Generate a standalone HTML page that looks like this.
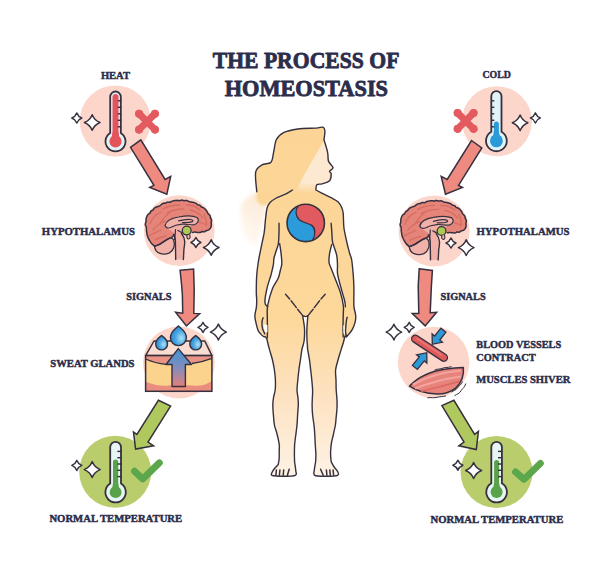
<!DOCTYPE html>
<html><head><meta charset="utf-8"><title>The Process of Homeostasis</title>
<style>html,body{margin:0;padding:0;background:#fff;}svg{display:block;}text{font-family:"Liberation Serif",serif;}</style>
</head><body>
<svg width="612" height="566" viewBox="0 0 612 566"><rect width="612" height="566" fill="#fff"/>
<defs>
 <linearGradient id="bodyg" gradientUnits="userSpaceOnUse" x1="0" y1="125" x2="0" y2="478">
  <stop offset="0" stop-color="#fcd596"/><stop offset="0.55" stop-color="#fdd89b"/><stop offset="0.78" stop-color="#fde3c3"/><stop offset="1" stop-color="#fef3e6"/>
 </linearGradient>
 <linearGradient id="faceg" gradientUnits="userSpaceOnUse" x1="0" y1="140" x2="0" y2="193">
  <stop offset="0" stop-color="#fde8cf"/><stop offset="0.8" stop-color="#fde9d2"/><stop offset="1" stop-color="#fde9d2" stop-opacity="0"/>
 </linearGradient>
 <linearGradient id="hairfade" gradientUnits="userSpaceOnUse" x1="266" y1="195" x2="242" y2="235">
  <stop offset="0" stop-color="#fde8cc"/><stop offset="0.3" stop-color="#fdeedc"/><stop offset="1" stop-color="#fff8f1"/>
 </linearGradient>
</defs>
<filter id="blur3" x="-50%" y="-50%" width="200%" height="200%"><feGaussianBlur stdDeviation="2.2"/></filter><filter id="blur1" x="-50%" y="-50%" width="200%" height="200%"><feGaussianBlur stdDeviation="0.9"/></filter><path filter="url(#blur3)" d="M257,192 C250,196 244,199 241.5,204 C240,212 241,222 244,232 C247,240 252,245 256,246 L261,232 L264.5,214 L266,204 Z" fill="url(#hairfade)"/><path filter="url(#blur1)" d="M257,184 L256.6,192 L256.4,199 C257.5,203 261,205.5 265.5,205.5 L268,204 L275.5,198.5 L285.4,194.2 L293,189 L285,184 Z" fill="#fcd596"/>
<path d="M256.8,191.8 C256.6,188.5 254.8,176.5 255.7,172.0 C256.6,167.5 259.4,166.5 262.0,164.9 C264.6,163.3 269.1,164.3 271.0,162.2 C272.9,160.1 272.7,156.1 273.6,152.4 C274.5,148.7 274.7,143.1 276.3,139.8 C277.9,136.5 279.9,134.4 283.5,132.6 C287.1,130.8 292.5,129.8 297.9,129.0 C303.3,128.2 311.7,128.4 315.9,128.1 C320.1,127.8 321.5,126.8 323.0,127.2 C324.5,127.7 324.7,128.7 324.9,130.8 C325.1,132.9 324.1,138.3 324.0,139.8 C324.6,141.9 326.9,148.8 327.6,152.4 C328.4,156.0 327.6,158.8 328.5,161.3 C329.4,163.8 332.8,165.9 333.0,167.6 C333.2,169.2 329.9,170.1 329.6,171.2 C329.3,172.3 331.2,172.3 331.2,174.0 C331.2,175.7 330.9,179.5 329.4,181.1 C327.9,182.7 324.3,183.2 322.2,183.8 C320.1,184.4 317.9,183.7 316.8,184.7 C315.8,185.7 316.0,189.1 315.9,190.0 C316.8,190.5 318.7,191.5 321.2,192.8 C323.7,194.1 328.3,196.2 331.1,197.7 C333.9,199.2 336.4,200.3 338.2,202.0 C340.0,203.7 340.9,205.7 341.7,207.6 C342.5,209.5 342.8,210.0 343.2,213.3 C343.6,216.6 343.3,222.8 343.9,227.5 C344.5,232.2 345.8,237.4 346.7,241.6 C347.6,245.8 348.7,249.8 349.5,252.9 C350.3,256.0 351.1,256.4 351.7,260.0 C352.3,263.6 352.8,269.5 353.2,274.2 C353.6,278.9 353.8,284.0 353.9,288.3 C354.0,292.6 353.8,296.9 353.8,300.0 C353.8,303.1 353.7,304.5 354.0,307.1 C354.3,309.7 355.5,312.9 355.7,315.5 C355.9,318.1 355.6,320.2 355.0,322.6 C354.4,325.0 353.2,327.8 352.2,329.7 C351.2,331.6 349.9,332.7 349.0,333.9 C348.1,335.1 346.9,336.2 346.5,336.7 L345,336 C344.8,337.0 344.1,339.7 343.5,342.0 C342.9,344.3 342.0,346.6 341.1,349.6 C340.2,352.6 338.9,356.6 338.0,360.0 C337.1,363.4 335.9,366.7 335.6,370.0 C335.3,373.3 335.9,376.7 336.0,380.0 C336.1,383.3 336.0,386.7 336.2,390.0 C336.4,393.3 336.9,397.0 337.0,400.0 C337.1,403.0 337.1,405.2 337.0,408.0 C336.9,410.8 336.5,414.2 336.2,417.0 C335.9,419.8 335.8,422.2 335.4,425.0 C334.9,427.8 334.1,431.2 333.5,434.0 C332.9,436.8 332.1,439.3 331.6,442.0 C331.1,444.7 330.9,447.5 330.7,450.0 C330.5,452.5 330.6,455.0 330.7,457.0 C330.8,459.0 331.2,461.2 331.3,462.0 C331.8,462.9 333.4,465.9 334.5,467.5 C335.6,469.1 337.1,470.2 337.6,471.5 C338.1,472.8 339.5,474.5 337.6,475.3 C335.7,476.1 330.0,476.2 326.2,476.2 C322.4,476.2 316.8,476.4 314.8,475.3 C312.8,474.2 314.3,471.6 314.4,469.4 C314.5,467.2 315.4,463.2 315.6,462.0 C315.7,460.8 315.9,457.5 315.9,454.7 C315.8,451.9 315.5,448.3 315.3,445.0 C315.1,441.7 315.0,438.3 314.8,435.0 C314.6,431.7 314.4,428.3 314.0,425.0 C313.6,421.7 312.9,418.3 312.6,415.0 C312.3,411.7 312.1,408.0 312.1,405.0 C312.1,402.0 312.3,399.5 312.4,397.0 C312.5,394.5 312.7,392.8 312.6,390.0 C312.5,387.2 312.1,383.3 311.8,380.0 C311.5,376.7 311.1,373.3 310.7,370.0 C310.3,366.7 310.0,363.4 309.5,360.0 C309.0,356.6 308.1,352.1 307.7,349.6 C307.3,347.1 307.5,346.6 307.4,345.0 C307.3,343.4 307.1,342.0 307.0,340.0 C306.9,338.0 306.8,335.2 306.8,333.0 C306.8,330.8 306.9,329.2 307.0,327.0 C307.1,324.8 307.4,321.8 307.5,320.0 C307.6,318.2 307.8,316.7 307.8,316.0 C307.4,316.1 306.1,316.6 305.3,316.6 C304.5,316.6 303.2,315.4 302.9,316.0 C302.6,316.6 303.1,318.2 303.4,320.0 C303.6,321.8 304.2,324.8 304.4,327.0 C304.6,329.2 304.6,330.8 304.6,333.0 C304.6,335.2 304.4,338.0 304.2,340.0 C304.0,342.0 303.6,343.4 303.2,345.0 C302.8,346.6 302.4,347.1 301.9,349.6 C301.4,352.1 300.9,356.6 300.4,360.0 C299.9,363.4 299.3,366.7 298.9,370.0 C298.5,373.3 298.1,376.7 297.8,380.0 C297.5,383.3 297.0,387.0 297.0,390.0 C297.0,393.0 297.8,395.5 298.0,398.0 C298.2,400.5 298.4,402.2 298.3,405.0 C298.2,407.8 297.8,411.7 297.6,415.0 C297.4,418.3 297.3,421.7 297.0,425.0 C296.7,428.3 296.2,431.7 295.8,435.0 C295.4,438.3 294.8,441.7 294.6,445.0 C294.4,448.3 294.4,451.9 294.4,454.7 C294.4,457.5 294.6,460.8 294.6,462.0 C294.8,463.5 295.7,468.7 295.8,470.9 C295.9,473.1 297.4,474.4 295.3,475.3 C293.2,476.2 287.3,476.2 283.5,476.2 C279.7,476.2 274.2,476.1 272.3,475.5 C270.4,474.9 271.6,473.7 272.0,472.5 C272.4,471.3 273.5,469.8 274.5,468.5 C275.5,467.2 277.6,465.2 278.2,464.5 C278.4,463.6 278.9,461.1 279.1,459.0 C279.3,456.9 279.2,454.3 279.2,452.0 C279.2,449.7 279.5,447.3 279.3,445.0 C279.1,442.7 278.5,440.2 278.0,438.0 C277.5,435.8 277.1,434.2 276.5,432.0 C275.9,429.8 274.9,427.8 274.4,425.0 C273.9,422.2 273.7,418.3 273.4,415.0 C273.1,411.7 272.8,408.0 272.8,405.0 C272.8,402.0 273.2,399.5 273.6,397.0 C274.0,394.5 274.9,392.8 275.2,390.0 C275.5,387.2 275.5,383.3 275.4,380.0 C275.3,376.7 274.9,373.3 274.4,370.0 C273.9,366.7 273.3,363.4 272.5,360.0 C271.7,356.6 270.3,352.4 269.5,349.6 C268.7,346.8 268.2,344.8 267.8,343.0 C267.4,341.2 267.0,339.7 266.8,339.0 L265.6,337 C265.0,336.3 264.6,337.1 263.8,336.7 C263.0,336.3 261.6,335.1 260.6,333.9 C259.6,332.7 258.6,331.8 257.8,329.7 C257.0,327.6 256.1,323.6 255.6,321.2 C255.1,318.8 254.8,317.9 254.9,315.5 C255.0,313.1 256.1,309.7 256.4,307.1 C256.7,304.5 256.7,302.5 256.7,300.0 C256.7,297.5 256.3,296.3 256.3,292.0 C256.3,287.7 256.4,279.4 256.8,274.2 C257.2,269.0 257.8,265.4 258.5,260.8 C259.2,256.2 260.4,251.3 261.3,246.6 C262.2,241.9 263.5,237.2 264.2,232.5 C264.9,227.8 265.1,222.3 265.6,218.3 C266.1,214.3 266.3,211.0 267.0,208.4 C267.7,205.8 268.4,204.3 269.8,202.7 C271.2,201.0 272.9,199.9 275.5,198.5 C278.1,197.1 282.6,195.6 285.4,194.2 C288.2,192.8 291.3,190.7 292.5,190.0 C285,193 270,194 256.8,191.8 Z" fill="url(#bodyg)"/><path d="M323.7,141 C327,150 328,158 332.5,166.1 C329.3,170.9 330.1,174.1 328.5,181.2 C324,184 318,183 315.8,184.4 C315.3,186.8 317,189 318.2,190 C318.5,192 310,192.5 296,192 C303,176 312,161 323.7,141 Z" fill="url(#faceg)"/><path d="M279.2,243.5 C279.5,245.2 280.7,250.3 281.1,253.7 C281.5,257.1 281.9,260.9 281.8,263.6 C281.7,266.3 281.0,267.6 280.4,270.0 C279.8,272.4 279.6,274.9 278.3,278.0 C277.0,281.1 274.4,283.8 272.6,288.3 C270.8,292.9 268.9,302.9 267.7,305.3 C266.5,307.8 265.6,305.8 265.5,303.0 C265.4,300.2 266.1,293.1 267.0,288.3 C267.9,283.5 270.1,278.6 271.2,274.2 C272.2,269.8 272.8,265.0 273.3,262.0 C273.9,259.0 274.0,257.9 274.5,256.0 C275.0,254.1 275.9,252.3 276.5,250.5 C277.1,248.7 278.0,245.9 278.3,245.0 Z" fill="#fff"/><path d="M331.8,244.4 C331.4,245.8 330.2,250.0 329.7,252.9 C329.2,255.8 328.8,259.4 329.0,262.0 C329.2,264.6 330.0,265.3 331.2,268.5 C332.4,271.7 334.7,277.2 336.2,281.2 C337.7,285.2 339.2,288.5 340.4,292.5 C341.6,296.5 342.5,303.2 343.3,305.3 C344.1,307.4 345.0,305.7 345.2,305.0 C345.4,304.3 345.4,303.8 344.7,301.0 C344.0,298.2 342.3,292.8 341.1,288.3 C339.9,283.8 338.3,278.6 337.6,274.2 C336.9,269.8 337.2,265.0 337.0,262.0 C336.8,259.0 336.9,258.2 336.5,256.0 C336.1,253.8 335.4,250.9 334.7,248.7 C334.0,246.5 332.9,243.9 332.5,243.0 Z" fill="#fff"/><path d="M302.9,316 C304.5,316.8 306.5,316.8 307.8,316 C307.5,320 306.8,327 306.8,333 C306.9,337 307.2,341 307.5,345 L303.2,345 C303.8,341 304.4,337 304.6,333 C304.5,327 303.5,320 302.9,316 Z" fill="#fff"/><path d="M256.8,191.8 C256.6,188.5 254.8,176.5 255.7,172.0 C256.6,167.5 259.4,166.5 262.0,164.9 C264.6,163.3 269.1,164.3 271.0,162.2 C272.9,160.1 272.7,156.1 273.6,152.4 C274.5,148.7 274.7,143.1 276.3,139.8 C277.9,136.5 279.9,134.4 283.5,132.6 C287.1,130.8 292.5,129.8 297.9,129.0 C303.3,128.2 311.7,128.4 315.9,128.1 C320.1,127.8 321.5,126.8 323.0,127.2 C324.5,127.7 324.7,128.7 324.9,130.8 C325.1,132.9 324.1,138.3 324.0,139.8 C324.6,141.9 326.9,148.8 327.6,152.4 C328.4,156.0 327.6,158.8 328.5,161.3 C329.4,163.8 332.8,165.9 333.0,167.6 C333.2,169.2 329.9,170.1 329.6,171.2 C329.3,172.3 331.2,172.3 331.2,174.0 C331.2,175.7 330.9,179.5 329.4,181.1 C327.9,182.7 324.3,183.2 322.2,183.8 C320.1,184.4 317.9,183.7 316.8,184.7 C315.8,185.7 316.0,189.1 315.9,190.0 C316.8,190.5 318.7,191.5 321.2,192.8 C323.7,194.1 328.3,196.2 331.1,197.7 C333.9,199.2 336.4,200.3 338.2,202.0 C340.0,203.7 340.9,205.7 341.7,207.6 C342.5,209.5 342.8,210.0 343.2,213.3 C343.6,216.6 343.3,222.8 343.9,227.5 C344.5,232.2 345.8,237.4 346.7,241.6 C347.6,245.8 348.7,249.8 349.5,252.9 C350.3,256.0 351.1,256.4 351.7,260.0 C352.3,263.6 352.8,269.5 353.2,274.2 C353.6,278.9 353.8,284.0 353.9,288.3 C354.0,292.6 353.8,296.9 353.8,300.0 C353.8,303.1 353.7,304.5 354.0,307.1 C354.3,309.7 355.5,312.9 355.7,315.5 C355.9,318.1 355.6,320.2 355.0,322.6 C354.4,325.0 353.2,327.8 352.2,329.7 C351.2,331.6 349.9,332.7 349.0,333.9 C348.1,335.1 346.9,336.2 346.5,336.7 L345,336 C344.8,337.0 344.1,339.7 343.5,342.0 C342.9,344.3 342.0,346.6 341.1,349.6 C340.2,352.6 338.9,356.6 338.0,360.0 C337.1,363.4 335.9,366.7 335.6,370.0 C335.3,373.3 335.9,376.7 336.0,380.0 C336.1,383.3 336.0,386.7 336.2,390.0 C336.4,393.3 336.9,397.0 337.0,400.0 C337.1,403.0 337.1,405.2 337.0,408.0 C336.9,410.8 336.5,414.2 336.2,417.0 C335.9,419.8 335.8,422.2 335.4,425.0 C334.9,427.8 334.1,431.2 333.5,434.0 C332.9,436.8 332.1,439.3 331.6,442.0 C331.1,444.7 330.9,447.5 330.7,450.0 C330.5,452.5 330.6,455.0 330.7,457.0 C330.8,459.0 331.2,461.2 331.3,462.0 C331.8,462.9 333.4,465.9 334.5,467.5 C335.6,469.1 337.1,470.2 337.6,471.5 C338.1,472.8 339.5,474.5 337.6,475.3 C335.7,476.1 330.0,476.2 326.2,476.2 C322.4,476.2 316.8,476.4 314.8,475.3 C312.8,474.2 314.3,471.6 314.4,469.4 C314.5,467.2 315.4,463.2 315.6,462.0 C315.7,460.8 315.9,457.5 315.9,454.7 C315.8,451.9 315.5,448.3 315.3,445.0 C315.1,441.7 315.0,438.3 314.8,435.0 C314.6,431.7 314.4,428.3 314.0,425.0 C313.6,421.7 312.9,418.3 312.6,415.0 C312.3,411.7 312.1,408.0 312.1,405.0 C312.1,402.0 312.3,399.5 312.4,397.0 C312.5,394.5 312.7,392.8 312.6,390.0 C312.5,387.2 312.1,383.3 311.8,380.0 C311.5,376.7 311.1,373.3 310.7,370.0 C310.3,366.7 310.0,363.4 309.5,360.0 C309.0,356.6 308.1,352.1 307.7,349.6 C307.3,347.1 307.5,346.6 307.4,345.0 C307.3,343.4 307.1,342.0 307.0,340.0 C306.9,338.0 306.8,335.2 306.8,333.0 C306.8,330.8 306.9,329.2 307.0,327.0 C307.1,324.8 307.4,321.8 307.5,320.0 C307.6,318.2 307.8,316.7 307.8,316.0 C307.4,316.1 306.1,316.6 305.3,316.6 C304.5,316.6 303.2,315.4 302.9,316.0 C302.6,316.6 303.1,318.2 303.4,320.0 C303.6,321.8 304.2,324.8 304.4,327.0 C304.6,329.2 304.6,330.8 304.6,333.0 C304.6,335.2 304.4,338.0 304.2,340.0 C304.0,342.0 303.6,343.4 303.2,345.0 C302.8,346.6 302.4,347.1 301.9,349.6 C301.4,352.1 300.9,356.6 300.4,360.0 C299.9,363.4 299.3,366.7 298.9,370.0 C298.5,373.3 298.1,376.7 297.8,380.0 C297.5,383.3 297.0,387.0 297.0,390.0 C297.0,393.0 297.8,395.5 298.0,398.0 C298.2,400.5 298.4,402.2 298.3,405.0 C298.2,407.8 297.8,411.7 297.6,415.0 C297.4,418.3 297.3,421.7 297.0,425.0 C296.7,428.3 296.2,431.7 295.8,435.0 C295.4,438.3 294.8,441.7 294.6,445.0 C294.4,448.3 294.4,451.9 294.4,454.7 C294.4,457.5 294.6,460.8 294.6,462.0 C294.8,463.5 295.7,468.7 295.8,470.9 C295.9,473.1 297.4,474.4 295.3,475.3 C293.2,476.2 287.3,476.2 283.5,476.2 C279.7,476.2 274.2,476.1 272.3,475.5 C270.4,474.9 271.6,473.7 272.0,472.5 C272.4,471.3 273.5,469.8 274.5,468.5 C275.5,467.2 277.6,465.2 278.2,464.5 C278.4,463.6 278.9,461.1 279.1,459.0 C279.3,456.9 279.2,454.3 279.2,452.0 C279.2,449.7 279.5,447.3 279.3,445.0 C279.1,442.7 278.5,440.2 278.0,438.0 C277.5,435.8 277.1,434.2 276.5,432.0 C275.9,429.8 274.9,427.8 274.4,425.0 C273.9,422.2 273.7,418.3 273.4,415.0 C273.1,411.7 272.8,408.0 272.8,405.0 C272.8,402.0 273.2,399.5 273.6,397.0 C274.0,394.5 274.9,392.8 275.2,390.0 C275.5,387.2 275.5,383.3 275.4,380.0 C275.3,376.7 274.9,373.3 274.4,370.0 C273.9,366.7 273.3,363.4 272.5,360.0 C271.7,356.6 270.3,352.4 269.5,349.6 C268.7,346.8 268.2,344.8 267.8,343.0 C267.4,341.2 267.0,339.7 266.8,339.0 L265.6,337 C265.0,336.3 264.6,337.1 263.8,336.7 C263.0,336.3 261.6,335.1 260.6,333.9 C259.6,332.7 258.6,331.8 257.8,329.7 C257.0,327.6 256.1,323.6 255.6,321.2 C255.1,318.8 254.8,317.9 254.9,315.5 C255.0,313.1 256.1,309.7 256.4,307.1 C256.7,304.5 256.7,302.5 256.7,300.0 C256.7,297.5 256.3,296.3 256.3,292.0 C256.3,287.7 256.4,279.4 256.8,274.2 C257.2,269.0 257.8,265.4 258.5,260.8 C259.2,256.2 260.4,251.3 261.3,246.6 C262.2,241.9 263.5,237.2 264.2,232.5 C264.9,227.8 265.1,222.3 265.6,218.3 C266.1,214.3 266.3,211.0 267.0,208.4 C267.7,205.8 268.4,204.3 269.8,202.7 C271.2,201.0 272.9,199.9 275.5,198.5 C278.1,197.1 282.6,195.6 285.4,194.2 C288.2,192.8 291.3,190.7 292.5,190.0" fill="none" stroke="#36303f" stroke-width="1.4" stroke-linecap="round" stroke-linejoin="round"/><path d="M279.0,223.3 C279.0,224.8 279.1,229.1 279.0,232.5 C278.9,235.9 278.8,240.8 278.3,243.8 C277.8,246.9 276.9,248.4 276.2,250.8 C275.5,253.2 274.5,255.6 274.0,258.0 C273.5,260.4 273.8,262.3 273.3,265.0 C272.8,267.7 272.2,270.3 271.2,274.2 C270.1,278.1 268.1,283.6 267.0,288.3 C265.9,293.0 264.8,299.4 264.9,302.5 C265.0,305.6 267.2,306.0 267.7,306.7" fill="none" stroke="#36303f" stroke-width="1.4" stroke-linecap="round" stroke-linejoin="round"/><path d="M279.7,243.8 C279.9,245.5 280.8,250.4 281.1,253.7 C281.5,257.0 281.9,260.9 281.8,263.6 C281.7,266.3 281.0,267.6 280.4,270.0 C279.8,272.4 279.6,274.9 278.3,278.0 C277.0,281.1 274.4,283.8 272.6,288.3 C270.8,292.9 268.6,300.6 267.7,305.3 C266.8,310.0 267.3,312.5 267.3,316.6 C267.3,320.7 267.5,326.4 267.5,330.0 C267.5,333.6 267.3,336.7 267.3,338.0" fill="none" stroke="#36303f" stroke-width="1.4" stroke-linecap="round" stroke-linejoin="round"/><path d="M331.1,223.2 C331.2,224.6 331.6,228.6 331.8,231.7 C332.0,234.8 332.0,238.8 332.5,241.6 C333.0,244.4 334.0,246.3 334.7,248.7 C335.4,251.1 336.3,253.1 336.8,255.8 C337.3,258.5 337.4,261.9 337.5,265.0 C337.6,268.1 337.0,270.3 337.6,274.2 C338.2,278.1 339.9,283.8 341.1,288.3 C342.3,292.8 344.0,297.9 344.7,301.0 C345.4,304.1 345.3,305.8 345.4,306.7" fill="none" stroke="#36303f" stroke-width="1.4" stroke-linecap="round" stroke-linejoin="round"/><path d="M331.8,244.4 C331.4,245.8 330.2,250.0 329.7,252.9 C329.2,255.8 328.8,259.4 329.0,262.0 C329.2,264.6 330.0,265.3 331.2,268.5 C332.4,271.7 334.7,277.2 336.2,281.2 C337.7,285.2 339.2,288.5 340.4,292.5 C341.6,296.5 342.8,301.3 343.3,305.3 C343.8,309.3 343.2,312.5 343.2,316.6 C343.1,320.7 343.0,326.6 343.0,330.0 C343.0,333.4 343.2,335.8 343.2,337.0" fill="none" stroke="#36303f" stroke-width="1.4" stroke-linecap="round" stroke-linejoin="round"/><path d="M263.6,324.5 C265,324.3 266.5,324.6 267.4,325 L267.5,332 C266.5,332.5 265.5,332.5 264.6,331.5 Z" fill="#fff"/><path d="M344.2,325 C344.8,327 345.3,330 345.6,333.5 L343.4,333.5 L343.3,325.5 Z" fill="#fff"/><path d="M263.1,317.7 C262,320 261.8,325 262.4,328.2 C263,330.5 264,332 264.8,333.9" fill="none" stroke="#36303f" stroke-width="1.4" stroke-linecap="round" stroke-linejoin="round"/><path d="M347.2,317.3 C346,320 346,326 345.5,330.4 C345.5,333 346,335 346.5,336.7" fill="none" stroke="#36303f" stroke-width="1.4" stroke-linecap="round" stroke-linejoin="round"/><line x1="285.5" y1="294.2" x2="289.7" y2="299.0" stroke="#36303f" stroke-width="1.4" stroke-linecap="round"/><line x1="291.1" y1="300.7" x2="296.4" y2="307.6" stroke="#36303f" stroke-width="1.4" stroke-linecap="round"/><line x1="297.6" y1="309.2" x2="302.9" y2="315.9" stroke="#36303f" stroke-width="1.4" stroke-linecap="round"/><line x1="325.2" y1="294.2" x2="321.0" y2="299.0" stroke="#36303f" stroke-width="1.4" stroke-linecap="round"/><line x1="319.6" y1="300.7" x2="314.3" y2="307.6" stroke="#36303f" stroke-width="1.4" stroke-linecap="round"/><line x1="313.1" y1="309.2" x2="307.8" y2="315.9" stroke="#36303f" stroke-width="1.4" stroke-linecap="round"/><line x1="276.4" y1="470" x2="275.9" y2="475.3" stroke="#36303f" stroke-width="1.5" stroke-linecap="round"/><line x1="279.9" y1="470" x2="279.4" y2="475.3" stroke="#36303f" stroke-width="1.5" stroke-linecap="round"/><line x1="283.7" y1="470" x2="283.2" y2="475.3" stroke="#36303f" stroke-width="1.5" stroke-linecap="round"/><line x1="289.2" y1="469.3" x2="287.4" y2="475.3" stroke="#36303f" stroke-width="1.5" stroke-linecap="round"/><line x1="326.4" y1="470" x2="326.9" y2="475.3" stroke="#36303f" stroke-width="1.5" stroke-linecap="round"/><line x1="329.8" y1="470" x2="330.3" y2="475.3" stroke="#36303f" stroke-width="1.5" stroke-linecap="round"/><line x1="333.1" y1="470" x2="333.6" y2="475.3" stroke="#36303f" stroke-width="1.5" stroke-linecap="round"/><line x1="320.6" y1="469.3" x2="323.2" y2="475.3" stroke="#36303f" stroke-width="1.5" stroke-linecap="round"/><circle cx="305.75" cy="222.9" r="18.7" fill="#2b9bdb"/><clipPath id="yyc"><circle cx="305.75" cy="222.9" r="18.7"/></clipPath><path clip-path="url(#yyc)" d="M293.9,197.3 L298.1,206.4 C295,210 295.5,216 299,219.5 C302,222.5 308,223 311.7,225.4 C315.5,228 316,235 312.5,240.7 L316,250 L340,250 L340,190 Z" fill="#e05a60"/><path d="M312.5,240.7 C316,235 315.5,228 311.7,225.4 C308,223 302,222.5 299,219.5 C295.5,216 295,210 298.1,206.4" fill="none" stroke="#36303f" stroke-width="1.3"/><circle cx="305.75" cy="222.9" r="18.7" fill="none" stroke="#36303f" stroke-width="1.6"/>
<circle cx="115.3" cy="121.0" r="35.6" fill="#fcd6ca"/>
<circle cx="496.9" cy="121.2" r="35.0" fill="#fcd6ca"/>
<circle cx="179.2" cy="230.6" r="35.4" fill="#fcd6ca"/>
<circle cx="434" cy="231" r="35.5" fill="#fcd6ca"/>
<circle cx="178.9" cy="362.5" r="35.9" fill="#fcd6ca"/>
<circle cx="433.6" cy="362.4" r="35.7" fill="#fcd6ca"/>
<circle cx="115.2" cy="471.8" r="36" fill="#bacd6d"/>
<circle cx="496.5" cy="472" r="36" fill="#bacd6d"/>
<path d="M110.2,96.8 A5.2,5.2 0 0 1 120.8,96.8 L120.8,132.9 A10.0,10.0 0 1 1 110.2,132.9 Z" fill="#e2f3f7" stroke="#36303f" stroke-width="1.8"/><rect x="112.5" y="94.1" width="6.0" height="47.3" rx="3.0" fill="#e4545a"/><circle cx="115.5" cy="141.4" r="6.1" fill="#e4545a"/><path d="M112.5,132.3 Q112.5,136.3 110.4,139.4 L120.6,139.4 Q118.5,136.3 118.5,132.3 Z" fill="#e4545a"/><line x1="117.7" y1="100.8" x2="121.4" y2="100.8" stroke="#36303f" stroke-width="1.4"/><line x1="117.7" y1="107.3" x2="121.4" y2="107.3" stroke="#36303f" stroke-width="1.4"/><line x1="117.7" y1="113.8" x2="121.4" y2="113.8" stroke="#36303f" stroke-width="1.4"/><line x1="117.7" y1="120.3" x2="121.4" y2="120.3" stroke="#36303f" stroke-width="1.4"/><line x1="117.7" y1="126.8" x2="121.4" y2="126.8" stroke="#36303f" stroke-width="1.4"/>
<path d="M138.8,113.5 L155.2,129.9 M155.2,113.5 L138.8,129.9" stroke="#e35a5f" stroke-width="7.0" stroke-linecap="round"/><circle cx="139.1" cy="113.8" r="4.1" fill="#e35a5f"/><circle cx="139.1" cy="129.6" r="4.1" fill="#e35a5f"/><circle cx="154.9" cy="113.8" r="4.1" fill="#e35a5f"/><circle cx="154.9" cy="129.6" r="4.1" fill="#e35a5f"/>
<path d="M76.8,113.0 Q78.2,116.6 81.8,118.0 Q78.2,119.4 76.8,123.0 Q75.4,119.4 71.8,118.0 Q75.4,116.6 76.8,113.0 Z" fill="#fff" stroke="#36303f" stroke-width="1.5" stroke-linejoin="round"/>
<path d="M92.2,114.7 Q94.4,120.3 100.0,122.5 Q94.4,124.7 92.2,130.3 Q90.0,124.7 84.4,122.5 Q90.0,120.3 92.2,114.7 Z" fill="#fff" stroke="#36303f" stroke-width="1.5" stroke-linejoin="round"/>
<path d="M491.3,96.2 A5.1,5.1 0 0 1 501.5,96.2 L501.5,131.8 A10.4,10.4 0 1 1 491.3,131.8 Z" fill="#e2f3f7" stroke="#36303f" stroke-width="1.8"/><rect x="493.9" y="121.4" width="5.0" height="19.5" rx="2.5" fill="#2a9ad8"/><circle cx="496.4" cy="140.9" r="6.4" fill="#2a9ad8"/><path d="M493.9,131.5 Q493.9,135.5 491.0,138.9 L501.8,138.9 Q498.9,135.5 498.9,131.5 Z" fill="#2a9ad8"/><line x1="491.3" y1="100.8" x2="494.3" y2="100.8" stroke="#36303f" stroke-width="1.4"/><line x1="491.3" y1="107.3" x2="494.3" y2="107.3" stroke="#36303f" stroke-width="1.4"/><line x1="491.3" y1="113.8" x2="494.3" y2="113.8" stroke="#36303f" stroke-width="1.4"/><line x1="491.3" y1="120.3" x2="494.3" y2="120.3" stroke="#36303f" stroke-width="1.4"/><line x1="491.3" y1="126.8" x2="494.3" y2="126.8" stroke="#36303f" stroke-width="1.4"/>
<path d="M457.4,112.7 L473.8,129.1 M473.8,112.7 L457.4,129.1" stroke="#e35a5f" stroke-width="7.0" stroke-linecap="round"/><circle cx="457.7" cy="113.0" r="4.1" fill="#e35a5f"/><circle cx="457.7" cy="128.8" r="4.1" fill="#e35a5f"/><circle cx="473.5" cy="113.0" r="4.1" fill="#e35a5f"/><circle cx="473.5" cy="128.8" r="4.1" fill="#e35a5f"/>
<path d="M520.1,115.0 Q522.3,120.6 527.9,122.8 Q522.3,125.0 520.1,130.6 Q517.9,125.0 512.3,122.8 Q517.9,120.6 520.1,115.0 Z" fill="#fff" stroke="#36303f" stroke-width="1.5" stroke-linejoin="round"/>
<path d="M535.4,112.9 Q536.8,116.5 540.4,117.9 Q536.8,119.3 535.4,122.9 Q534.0,119.3 530.4,117.9 Q534.0,116.5 535.4,112.9 Z" fill="#fff" stroke="#36303f" stroke-width="1.5" stroke-linejoin="round"/>

<g stroke-linejoin="round" stroke-linecap="round">
 <path d="M146.30,226.60 L145.70,225.86 L145.38,225.04 L145.32,224.24 L145.46,223.39 L145.72,222.60 L146.11,221.81 L146.02,220.98 L145.98,220.16 L146.05,219.32 L146.19,218.47 L146.38,217.70 L146.66,216.88 L147.00,216.08 L147.37,215.37 L147.88,214.66 L148.50,214.04 L149.24,213.56 L150.06,213.26 L150.27,212.37 L150.64,211.60 L151.18,210.98 L151.91,210.55 L152.78,210.31 L153.22,209.59 L153.67,208.85 L154.24,208.24 L154.91,207.75 L155.61,207.36 L156.38,207.00 L157.15,206.69 L157.93,206.41 L158.72,206.18 L159.49,205.98 L160.17,205.54 L160.78,204.99 L161.42,204.46 L162.09,203.96 L162.80,203.53 L163.58,203.23 L164.41,203.11 L165.30,203.24 L166.04,202.84 L166.77,202.34 L167.57,202.10 L168.41,202.11 L169.17,202.30 L170.01,202.31 L170.70,201.79 L171.44,201.41 L172.21,201.12 L172.99,200.90 L173.79,200.73 L174.59,200.58 L175.39,200.47 L176.21,200.39 L177.03,200.37 L177.86,200.41 L178.67,200.56 L179.49,200.79 L180.29,200.39 L181.13,200.14 L181.93,200.09 L182.72,200.25 L183.51,200.65 L184.31,200.71 L185.15,200.44 L185.99,200.39 L186.78,200.53 L187.57,200.81 L188.33,201.16 L189.07,201.55 L189.82,201.85 L190.65,201.90 L191.46,202.02 L192.26,202.17 L193.05,202.35 L193.84,202.57 L194.63,202.81 L195.39,203.09 L196.11,203.44 L196.79,203.92 L197.38,204.56 L198.08,204.97 L198.97,205.03 L199.75,205.28 L200.41,205.77 L200.95,206.46 L201.46,207.15 L202.34,207.29 L203.12,207.59 L203.83,208.01 L204.47,208.49 L205.08,209.03 L205.68,209.70 L206.18,210.36 L206.66,211.03 L207.09,211.73 L207.47,212.46 L207.77,213.24 L208.30,213.86 L208.95,214.41 L209.54,215.01 L210.02,215.69 L210.32,216.46 L210.41,217.32 L210.44,218.19 L211.09,218.88 L211.46,219.66 L211.57,220.50 L211.47,221.34 L211.22,222.17 L211.06,222.98 L211.28,223.81 L211.35,224.62 L211.30,225.51 L211.16,226.35 L210.92,227.19 L210.51,228.04 L209.95,228.78 L209.33,229.37 L208.59,229.88 L207.81,230.22 L206.94,230.40 L206.15,230.61 L205.51,231.25 L204.73,231.69 L203.95,231.86 L203.09,231.77 L202.21,231.43 L201.48,231.99 L200.70,232.33 L199.89,232.50 L199.09,232.52 L198.27,232.47 L197.46,232.38 L196.64,232.28 L195.84,232.17 L195.03,232.04 L194.23,232.11 L193.44,232.28 L192.63,232.44 L184,234 L176,236 C174,237 172.4,237.7 170.5,237.9 C168.3,238.5 166,240 164.2,241.3 C162,243 160,244.6 157,245.5 C156,246 155,246.2 154.4,246.2 C152,244.5 150.5,242.5 149.5,240.5 C148,238 147.1,236 147.1,234.8 C146.5,232 146.3,229 146.3,226.6 Z" fill="#e5857a"/>
 <path d="M150,224 C152,218 156,214 161,212 M153,230 C156,226 160,223 165,221 M149,236 C153,233 157,232 161,230 M163,209 C168,206 174,205 180,205 M167,213 C172,210 178,209 184,209 M186,205 C192,205 197,207 200,210 M190,210 C196,211 200,214 203,218 M199,222 C202,223 205,225 207,224 M204,214 C206,218 207,222 206,226 M155,240 C158,238 162,237 166,236 M170,212 C166,216 162,219 160,224" fill="none" stroke="#d4645a" stroke-width="1.3" opacity="0.75"/>
 <path d="M165,225.6 C166,221 172,218 178.6,217 C185,215.8 193,215.5 197,217.5 C199.5,219.5 198.5,223 195,224.5 L190,226.5 L185,229 L182,232 L183.5,240 L175,240 L175,234 C173,232 170,230 167.5,228.5 C166,227.5 165,226.5 165,225.6 Z" fill="#f2b1a8"/>
 <path d="M154.4,246.2 C155,250 157,252.5 159.3,253.2 C162,254.3 166,254.4 169.1,253.2 C171.5,252 173,250 173.8,247.5 C174.5,245 174.4,242 173.6,240 C173,238.5 172,237.8 170.5,237.9 C168.3,238.5 166,240 164.2,241.3 C162,243 160,244.6 157,245.5 C156,246 155,246.2 154.4,246.2 Z" fill="#f2b1a8" stroke="#36303f" stroke-width="1.3"/>
 <path d="M174,234.5 C175,237 175.5,240 175.4,242 L175.7,259.5 L183.4,259.5 L183.9,249.5 C184.5,246 184.8,243 184.7,241.3 C184.5,238.5 183.5,236 181.5,233.5 Z" fill="#f2b1a8"/>
 <path d="M146.30,226.60 L145.70,225.86 L145.38,225.04 L145.32,224.24 L145.46,223.39 L145.72,222.60 L146.11,221.81 L146.02,220.98 L145.98,220.16 L146.05,219.32 L146.19,218.47 L146.38,217.70 L146.66,216.88 L147.00,216.08 L147.37,215.37 L147.88,214.66 L148.50,214.04 L149.24,213.56 L150.06,213.26 L150.27,212.37 L150.64,211.60 L151.18,210.98 L151.91,210.55 L152.78,210.31 L153.22,209.59 L153.67,208.85 L154.24,208.24 L154.91,207.75 L155.61,207.36 L156.38,207.00 L157.15,206.69 L157.93,206.41 L158.72,206.18 L159.49,205.98 L160.17,205.54 L160.78,204.99 L161.42,204.46 L162.09,203.96 L162.80,203.53 L163.58,203.23 L164.41,203.11 L165.30,203.24 L166.04,202.84 L166.77,202.34 L167.57,202.10 L168.41,202.11 L169.17,202.30 L170.01,202.31 L170.70,201.79 L171.44,201.41 L172.21,201.12 L172.99,200.90 L173.79,200.73 L174.59,200.58 L175.39,200.47 L176.21,200.39 L177.03,200.37 L177.86,200.41 L178.67,200.56 L179.49,200.79 L180.29,200.39 L181.13,200.14 L181.93,200.09 L182.72,200.25 L183.51,200.65 L184.31,200.71 L185.15,200.44 L185.99,200.39 L186.78,200.53 L187.57,200.81 L188.33,201.16 L189.07,201.55 L189.82,201.85 L190.65,201.90 L191.46,202.02 L192.26,202.17 L193.05,202.35 L193.84,202.57 L194.63,202.81 L195.39,203.09 L196.11,203.44 L196.79,203.92 L197.38,204.56 L198.08,204.97 L198.97,205.03 L199.75,205.28 L200.41,205.77 L200.95,206.46 L201.46,207.15 L202.34,207.29 L203.12,207.59 L203.83,208.01 L204.47,208.49 L205.08,209.03 L205.68,209.70 L206.18,210.36 L206.66,211.03 L207.09,211.73 L207.47,212.46 L207.77,213.24 L208.30,213.86 L208.95,214.41 L209.54,215.01 L210.02,215.69 L210.32,216.46 L210.41,217.32 L210.44,218.19 L211.09,218.88 L211.46,219.66 L211.57,220.50 L211.47,221.34 L211.22,222.17 L211.06,222.98 L211.28,223.81 L211.35,224.62 L211.30,225.51 L211.16,226.35 L210.92,227.19 L210.51,228.04 L209.95,228.78 L209.33,229.37 L208.59,229.88 L207.81,230.22 L206.94,230.40 L206.15,230.61 L205.51,231.25 L204.73,231.69 L203.95,231.86 L203.09,231.77 L202.21,231.43 L201.48,231.99 L200.70,232.33 L199.89,232.50 L199.09,232.52 L198.27,232.47 L197.46,232.38 L196.64,232.28 L195.84,232.17 L195.03,232.04 L194.23,232.11 L193.44,232.28 L192.63,232.44 M146.3,226.6 C146.3,229 146.5,232 147.1,234.8 C147.6,237 148,238 149.5,240.5 C150.5,242.5 152,244.5 154.4,246.2 C157,245.5 160,244.6 164.2,241.3 C166,240 168.3,238.5 170.5,237.9 C172.5,237.5 173.5,236 174,234.5" fill="none" stroke="#36303f" stroke-width="1.5"/>
 <path d="M174,234.5 C175,237 175.5,240 175.4,242 L175.7,259.5 M183.4,259.5 L183.9,249.5 C184.5,246 184.8,243 184.7,241.3 C184.5,238.5 183.5,236 181.5,233.5" fill="none" stroke="#36303f" stroke-width="1.4"/>
 <path d="M165,225.6 C166,221 172,218 178.6,217 C185,215.8 193,215.5 197,217.5 C199.5,219.5 198.5,223 195,224.5 C193,225 191,224.8 189,224.5 M165,225.6 C166,228 168.5,228.6 171,227.3 C174,225.6 178,224.6 182,224.2 C184.5,224 186.5,224.2 188,224.5 M178.6,220.9 C183,219.6 188,219.1 190.9,219.5 C193,219.9 193.2,221.2 192.2,221.6 C190,222.5 186,222.6 182.5,222.5 M175.5,229.5 C175.4,233 175,236.5 174.6,239.5 M177.9,230.4 C179.5,231.3 181,232 181.8,232.8" fill="none" stroke="#36303f" stroke-width="1.2"/>
 <circle cx="186.7" cy="230.6" r="4.4" fill="#a9ca55" stroke="#36303f" stroke-width="1.3"/>
 <path d="M187,235 C186.5,237.5 187.2,239 188.6,239 C190,239 190.4,237.5 189.8,235" fill="#f2b1a8" stroke="#36303f" stroke-width="1.1"/>
</g>
<g transform="translate(254.8,0.4)">
<g stroke-linejoin="round" stroke-linecap="round">
 <path d="M146.30,226.60 L145.70,225.86 L145.38,225.04 L145.32,224.24 L145.46,223.39 L145.72,222.60 L146.11,221.81 L146.02,220.98 L145.98,220.16 L146.05,219.32 L146.19,218.47 L146.38,217.70 L146.66,216.88 L147.00,216.08 L147.37,215.37 L147.88,214.66 L148.50,214.04 L149.24,213.56 L150.06,213.26 L150.27,212.37 L150.64,211.60 L151.18,210.98 L151.91,210.55 L152.78,210.31 L153.22,209.59 L153.67,208.85 L154.24,208.24 L154.91,207.75 L155.61,207.36 L156.38,207.00 L157.15,206.69 L157.93,206.41 L158.72,206.18 L159.49,205.98 L160.17,205.54 L160.78,204.99 L161.42,204.46 L162.09,203.96 L162.80,203.53 L163.58,203.23 L164.41,203.11 L165.30,203.24 L166.04,202.84 L166.77,202.34 L167.57,202.10 L168.41,202.11 L169.17,202.30 L170.01,202.31 L170.70,201.79 L171.44,201.41 L172.21,201.12 L172.99,200.90 L173.79,200.73 L174.59,200.58 L175.39,200.47 L176.21,200.39 L177.03,200.37 L177.86,200.41 L178.67,200.56 L179.49,200.79 L180.29,200.39 L181.13,200.14 L181.93,200.09 L182.72,200.25 L183.51,200.65 L184.31,200.71 L185.15,200.44 L185.99,200.39 L186.78,200.53 L187.57,200.81 L188.33,201.16 L189.07,201.55 L189.82,201.85 L190.65,201.90 L191.46,202.02 L192.26,202.17 L193.05,202.35 L193.84,202.57 L194.63,202.81 L195.39,203.09 L196.11,203.44 L196.79,203.92 L197.38,204.56 L198.08,204.97 L198.97,205.03 L199.75,205.28 L200.41,205.77 L200.95,206.46 L201.46,207.15 L202.34,207.29 L203.12,207.59 L203.83,208.01 L204.47,208.49 L205.08,209.03 L205.68,209.70 L206.18,210.36 L206.66,211.03 L207.09,211.73 L207.47,212.46 L207.77,213.24 L208.30,213.86 L208.95,214.41 L209.54,215.01 L210.02,215.69 L210.32,216.46 L210.41,217.32 L210.44,218.19 L211.09,218.88 L211.46,219.66 L211.57,220.50 L211.47,221.34 L211.22,222.17 L211.06,222.98 L211.28,223.81 L211.35,224.62 L211.30,225.51 L211.16,226.35 L210.92,227.19 L210.51,228.04 L209.95,228.78 L209.33,229.37 L208.59,229.88 L207.81,230.22 L206.94,230.40 L206.15,230.61 L205.51,231.25 L204.73,231.69 L203.95,231.86 L203.09,231.77 L202.21,231.43 L201.48,231.99 L200.70,232.33 L199.89,232.50 L199.09,232.52 L198.27,232.47 L197.46,232.38 L196.64,232.28 L195.84,232.17 L195.03,232.04 L194.23,232.11 L193.44,232.28 L192.63,232.44 L184,234 L176,236 C174,237 172.4,237.7 170.5,237.9 C168.3,238.5 166,240 164.2,241.3 C162,243 160,244.6 157,245.5 C156,246 155,246.2 154.4,246.2 C152,244.5 150.5,242.5 149.5,240.5 C148,238 147.1,236 147.1,234.8 C146.5,232 146.3,229 146.3,226.6 Z" fill="#e5857a"/>
 <path d="M150,224 C152,218 156,214 161,212 M153,230 C156,226 160,223 165,221 M149,236 C153,233 157,232 161,230 M163,209 C168,206 174,205 180,205 M167,213 C172,210 178,209 184,209 M186,205 C192,205 197,207 200,210 M190,210 C196,211 200,214 203,218 M199,222 C202,223 205,225 207,224 M204,214 C206,218 207,222 206,226 M155,240 C158,238 162,237 166,236 M170,212 C166,216 162,219 160,224" fill="none" stroke="#d4645a" stroke-width="1.3" opacity="0.75"/>
 <path d="M165,225.6 C166,221 172,218 178.6,217 C185,215.8 193,215.5 197,217.5 C199.5,219.5 198.5,223 195,224.5 L190,226.5 L185,229 L182,232 L183.5,240 L175,240 L175,234 C173,232 170,230 167.5,228.5 C166,227.5 165,226.5 165,225.6 Z" fill="#f2b1a8"/>
 <path d="M154.4,246.2 C155,250 157,252.5 159.3,253.2 C162,254.3 166,254.4 169.1,253.2 C171.5,252 173,250 173.8,247.5 C174.5,245 174.4,242 173.6,240 C173,238.5 172,237.8 170.5,237.9 C168.3,238.5 166,240 164.2,241.3 C162,243 160,244.6 157,245.5 C156,246 155,246.2 154.4,246.2 Z" fill="#f2b1a8" stroke="#36303f" stroke-width="1.3"/>
 <path d="M174,234.5 C175,237 175.5,240 175.4,242 L175.7,259.5 L183.4,259.5 L183.9,249.5 C184.5,246 184.8,243 184.7,241.3 C184.5,238.5 183.5,236 181.5,233.5 Z" fill="#f2b1a8"/>
 <path d="M146.30,226.60 L145.70,225.86 L145.38,225.04 L145.32,224.24 L145.46,223.39 L145.72,222.60 L146.11,221.81 L146.02,220.98 L145.98,220.16 L146.05,219.32 L146.19,218.47 L146.38,217.70 L146.66,216.88 L147.00,216.08 L147.37,215.37 L147.88,214.66 L148.50,214.04 L149.24,213.56 L150.06,213.26 L150.27,212.37 L150.64,211.60 L151.18,210.98 L151.91,210.55 L152.78,210.31 L153.22,209.59 L153.67,208.85 L154.24,208.24 L154.91,207.75 L155.61,207.36 L156.38,207.00 L157.15,206.69 L157.93,206.41 L158.72,206.18 L159.49,205.98 L160.17,205.54 L160.78,204.99 L161.42,204.46 L162.09,203.96 L162.80,203.53 L163.58,203.23 L164.41,203.11 L165.30,203.24 L166.04,202.84 L166.77,202.34 L167.57,202.10 L168.41,202.11 L169.17,202.30 L170.01,202.31 L170.70,201.79 L171.44,201.41 L172.21,201.12 L172.99,200.90 L173.79,200.73 L174.59,200.58 L175.39,200.47 L176.21,200.39 L177.03,200.37 L177.86,200.41 L178.67,200.56 L179.49,200.79 L180.29,200.39 L181.13,200.14 L181.93,200.09 L182.72,200.25 L183.51,200.65 L184.31,200.71 L185.15,200.44 L185.99,200.39 L186.78,200.53 L187.57,200.81 L188.33,201.16 L189.07,201.55 L189.82,201.85 L190.65,201.90 L191.46,202.02 L192.26,202.17 L193.05,202.35 L193.84,202.57 L194.63,202.81 L195.39,203.09 L196.11,203.44 L196.79,203.92 L197.38,204.56 L198.08,204.97 L198.97,205.03 L199.75,205.28 L200.41,205.77 L200.95,206.46 L201.46,207.15 L202.34,207.29 L203.12,207.59 L203.83,208.01 L204.47,208.49 L205.08,209.03 L205.68,209.70 L206.18,210.36 L206.66,211.03 L207.09,211.73 L207.47,212.46 L207.77,213.24 L208.30,213.86 L208.95,214.41 L209.54,215.01 L210.02,215.69 L210.32,216.46 L210.41,217.32 L210.44,218.19 L211.09,218.88 L211.46,219.66 L211.57,220.50 L211.47,221.34 L211.22,222.17 L211.06,222.98 L211.28,223.81 L211.35,224.62 L211.30,225.51 L211.16,226.35 L210.92,227.19 L210.51,228.04 L209.95,228.78 L209.33,229.37 L208.59,229.88 L207.81,230.22 L206.94,230.40 L206.15,230.61 L205.51,231.25 L204.73,231.69 L203.95,231.86 L203.09,231.77 L202.21,231.43 L201.48,231.99 L200.70,232.33 L199.89,232.50 L199.09,232.52 L198.27,232.47 L197.46,232.38 L196.64,232.28 L195.84,232.17 L195.03,232.04 L194.23,232.11 L193.44,232.28 L192.63,232.44 M146.3,226.6 C146.3,229 146.5,232 147.1,234.8 C147.6,237 148,238 149.5,240.5 C150.5,242.5 152,244.5 154.4,246.2 C157,245.5 160,244.6 164.2,241.3 C166,240 168.3,238.5 170.5,237.9 C172.5,237.5 173.5,236 174,234.5" fill="none" stroke="#36303f" stroke-width="1.5"/>
 <path d="M174,234.5 C175,237 175.5,240 175.4,242 L175.7,259.5 M183.4,259.5 L183.9,249.5 C184.5,246 184.8,243 184.7,241.3 C184.5,238.5 183.5,236 181.5,233.5" fill="none" stroke="#36303f" stroke-width="1.4"/>
 <path d="M165,225.6 C166,221 172,218 178.6,217 C185,215.8 193,215.5 197,217.5 C199.5,219.5 198.5,223 195,224.5 C193,225 191,224.8 189,224.5 M165,225.6 C166,228 168.5,228.6 171,227.3 C174,225.6 178,224.6 182,224.2 C184.5,224 186.5,224.2 188,224.5 M178.6,220.9 C183,219.6 188,219.1 190.9,219.5 C193,219.9 193.2,221.2 192.2,221.6 C190,222.5 186,222.6 182.5,222.5 M175.5,229.5 C175.4,233 175,236.5 174.6,239.5 M177.9,230.4 C179.5,231.3 181,232 181.8,232.8" fill="none" stroke="#36303f" stroke-width="1.2"/>
 <circle cx="186.7" cy="230.6" r="4.4" fill="#a9ca55" stroke="#36303f" stroke-width="1.3"/>
 <path d="M187,235 C186.5,237.5 187.2,239 188.6,239 C190,239 190.4,237.5 189.8,235" fill="#f2b1a8" stroke="#36303f" stroke-width="1.1"/>
</g></g>
<path d="M195.9,237.5 Q197.3,241.1 200.9,242.5 Q197.3,243.9 195.9,247.5 Q194.5,243.9 190.9,242.5 Q194.5,241.1 195.9,237.5 Z" fill="#fff" stroke="#36303f" stroke-width="1.5" stroke-linejoin="round"/>
<path d="M211.2,239.7 Q213.4,245.3 219.0,247.5 Q213.4,249.7 211.2,255.3 Q209.0,249.7 203.4,247.5 Q209.0,245.3 211.2,239.7 Z" fill="#fff" stroke="#36303f" stroke-width="1.5" stroke-linejoin="round"/>
<path d="M451.0,238.0 Q452.4,241.6 456.0,243.0 Q452.4,244.4 451.0,248.0 Q449.6,244.4 446.0,243.0 Q449.6,241.6 451.0,238.0 Z" fill="#fff" stroke="#36303f" stroke-width="1.5" stroke-linejoin="round"/>
<path d="M466.2,239.8 Q468.4,245.4 474.0,247.6 Q468.4,249.8 466.2,255.4 Q464.0,249.8 458.4,247.6 Q464.0,245.4 466.2,239.8 Z" fill="#fff" stroke="#36303f" stroke-width="1.5" stroke-linejoin="round"/>
<polygon points="130.5,147.3 140.8,139.9 165.1,179.4 170.7,176.4 166.8,194.3 149.7,187.5 153.9,185.3" fill="#ee8a80" stroke="#36303f" stroke-width="1.5" stroke-linejoin="miter"/>
<polygon points="471.5,140.5 481.8,147.9 458.5,185.4 462.5,187.5 445.5,194.3 441.2,176.4 447.2,179.5" fill="#ee8a80" stroke="#36303f" stroke-width="1.5" stroke-linejoin="miter"/>
<polygon points="180.1,270.3 193.6,269.1 194.2,290.0 193.8,313.4 199.7,313.6 186.4,326.0 175.6,312.3 182.7,313.2 182.4,295.0 181.6,285.0" fill="#ee8a80" stroke="#36303f" stroke-width="1.5" stroke-linejoin="miter"/>
<polygon points="419.2,268.8 432.4,270.4 431.4,286.0 430.2,312.7 436.6,312.3 425.2,325.9 412.3,313.6 418.8,313.6 418.2,286.0" fill="#ee8a80" stroke="#36303f" stroke-width="1.5" stroke-linejoin="miter"/>
<polygon points="158.4,400.3 170.6,406.1 148.0,442.0 153.6,445.8 135.6,449.0 133.5,432.1 136.9,434.4" fill="#b0c95e" stroke="#36303f" stroke-width="1.5" stroke-linejoin="miter"/>
<polygon points="441.9,405.6 453.9,400.3 474.6,434.3 478.4,431.5 476.3,449.6 458.8,445.8 464.0,442.0" fill="#b0c95e" stroke="#36303f" stroke-width="1.5" stroke-linejoin="miter"/>

<defs>
 <linearGradient id="swArrow" x1="0" y1="0" x2="0" y2="1">
  <stop offset="0" stop-color="#3d95d6"/><stop offset="0.55" stop-color="#8a8bb8"/><stop offset="1" stop-color="#e47f78"/>
 </linearGradient>
 <radialGradient id="drop" cx="0.68" cy="0.62" r="0.65">
  <stop offset="0" stop-color="#aee0f7"/><stop offset="0.55" stop-color="#4ba8e3"/><stop offset="1" stop-color="#2a8ad4"/>
 </radialGradient>
</defs>
<path d="M154,341 L204.8,341 L211.9,355.6 L145.6,355.6 Z" fill="#f9dcd2" stroke="#36303f" stroke-width="1.5" stroke-linejoin="round"/>
<rect x="145.6" y="355.6" width="66.3" height="35.7" fill="#fbd38c"/>
<path d="M145.6,355.6 L211.9,355.6 L211.9,358.3 C205,361 200,362.3 192,363.5 C185,364.2 172,364.8 166.4,364.4 C158,363.5 150,361 145.6,359 Z" fill="#ea9486"/>
<path d="M145.6,359 C150,361 158,363.5 166.4,364.4 M192,363.5 C200,362.3 205,361 211.9,358.3" fill="none" stroke="#36303f" stroke-width="1.3"/>
<path d="M145.6,391.3 L145.6,381.8 C150,383.5 155,385 160,385.6 C166,386 170,385.5 172,385 L185.4,385 C190,385.5 195,386 200,385.6 C205,385 209,383 211.9,381 L211.9,391.3 Z" fill="#e98d7e"/>
<rect x="145.6" y="355.6" width="66.3" height="35.7" fill="none" stroke="#36303f" stroke-width="1.5"/>
<path d="M172,386.5 L172,364.5 L166,364.5 L178.3,348.6 L191.5,364.5 L185.4,364.5 L185.4,386.5 Z" fill="url(#swArrow)" stroke="#36303f" stroke-width="1.4" stroke-linejoin="round"/>

<path d="M178.4,325.9 C176.2,328.5 170.4,330.8 170.4,337.6 A8.0,8.0 0 0 0 186.4,337.6 C186.4,330.8 180.6,328.5 178.4,325.9 Z" fill="url(#drop)" stroke="#36303f" stroke-width="1.4" stroke-linejoin="round"/>
<path d="M161.6,335.4 C159.9,337.3 155.7,339.0 155.7,344.0 A5.9,5.9 0 0 0 167.5,344.0 C167.5,339.0 163.3,337.3 161.6,335.4 Z" fill="url(#drop)" stroke="#36303f" stroke-width="1.4" stroke-linejoin="round"/>
<path d="M195.7,335.4 C194.0,337.3 189.8,339.0 189.8,344.0 A5.9,5.9 0 0 0 201.6,344.0 C201.6,339.0 197.4,337.3 195.7,335.4 Z" fill="url(#drop)" stroke="#36303f" stroke-width="1.4" stroke-linejoin="round"/>
<path d="M203.0,322.4 Q204.4,326.0 208.0,327.4 Q204.4,328.8 203.0,332.4 Q201.6,328.8 198.0,327.4 Q201.6,326.0 203.0,322.4 Z" fill="#fff" stroke="#36303f" stroke-width="1.5" stroke-linejoin="round"/>
<path d="M218.4,324.1 Q220.6,329.9 226.4,332.1 Q220.6,334.3 218.4,340.1 Q216.2,334.3 210.4,332.1 Q216.2,329.9 218.4,324.1 Z" fill="#fff" stroke="#36303f" stroke-width="1.5" stroke-linejoin="round"/>

<path d="M409.5,386.1 C418,377 432,371 446,369 C452,368 458,367.5 463.4,367.4 C464,374 462,382 456,387.8 C450,392.5 443,394.2 436.9,394 C426,393.5 416,390.5 409.5,386.1 Z" fill="#e7837b" stroke="#36303f" stroke-width="1.5" stroke-linejoin="round"/>
<path d="M413,384.5 C425,377.5 442,372.5 461,370.5 M415,388.5 C430,382.5 447,378.5 461,376.5" fill="none" stroke="#f2a4a0" stroke-width="2.2"/>
<path d="M421,391.5 C434,388 449,384.5 459,381.5" fill="none" stroke="#db6660" stroke-width="1.4"/>
<path d="M434.5,370.2 C437,368.5 439.5,369.6 442,368.4 C444.5,367.2 447,368 451.5,366.6" fill="none" stroke="#36303f" stroke-width="1.0"/>
<path d="M451.5,392 C454,390 455.5,390.8 457.5,387.8 C459.5,385 460.5,385.8 462.5,381.5 M454.5,395.8 C457.5,393.5 459,394.3 461,390.8 C463,387.5 464.2,388.3 465.8,383.5" fill="none" stroke="#36303f" stroke-width="1.0"/>
<path d="M427.3,397.8 C431,397.2 434,398.3 437.5,397.2 C440.5,396.2 442.5,397 446,395.8" fill="none" stroke="#36303f" stroke-width="1.0"/>
<line x1="415.3" y1="338.8" x2="443.8" y2="357.6" stroke="#36303f" stroke-width="8.6" stroke-linecap="round"/>
<line x1="415.3" y1="338.8" x2="443.8" y2="357.6" stroke="#e05a5c" stroke-width="6.0" stroke-linecap="round"/>
<line x1="417" y1="338.6" x2="442" y2="355.1" stroke="#ea7a78" stroke-width="1.5" stroke-linecap="round"/>

<polygon points="445.9,332.2 439.8,340.0 442.4,342.1 432.3,344.3 432.1,333.9 434.7,336.0 440.9,328.2" fill="#2b9ad9" stroke="#36303f" stroke-width="1.3" stroke-linejoin="miter"/>
<polygon points="412.4,365.4 419.3,356.9 416.6,354.8 426.8,352.7 426.9,363.1 424.3,360.9 417.4,369.4" fill="#2b9ad9" stroke="#36303f" stroke-width="1.3" stroke-linejoin="miter"/>
<path d="M393.9,324.3 Q396.1,329.9 401.7,332.1 Q396.1,334.3 393.9,339.9 Q391.7,334.3 386.1,332.1 Q391.7,329.9 393.9,324.3 Z" fill="#fff" stroke="#36303f" stroke-width="1.5" stroke-linejoin="round"/>
<path d="M409.2,322.4 Q410.6,326.0 414.2,327.4 Q410.6,328.8 409.2,332.4 Q407.8,328.8 404.2,327.4 Q407.8,326.0 409.2,322.4 Z" fill="#fff" stroke="#36303f" stroke-width="1.5" stroke-linejoin="round"/>
<path d="M110.2,447.2 A5.4,5.4 0 0 1 121.0,447.2 L121.0,483.5 A10.2,10.2 0 1 1 110.2,483.5 Z" fill="#e6f4f4" stroke="#36303f" stroke-width="1.8"/><rect x="113.0" y="459.5" width="5.2" height="32.7" rx="2.6" fill="#5aa24a"/><circle cx="115.6" cy="492.2" r="5.9" fill="#5aa24a"/><path d="M113.0,483.3 Q113.0,487.3 110.7,490.2 L120.5,490.2 Q118.2,487.3 118.2,483.3 Z" fill="#5aa24a"/><line x1="117.3" y1="451.4" x2="122.0" y2="451.4" stroke="#36303f" stroke-width="1.4"/><line x1="117.3" y1="457.7" x2="122.0" y2="457.7" stroke="#36303f" stroke-width="1.4"/><line x1="117.3" y1="464.0" x2="122.0" y2="464.0" stroke="#36303f" stroke-width="1.4"/><line x1="117.3" y1="470.3" x2="122.0" y2="470.3" stroke="#36303f" stroke-width="1.4"/><line x1="117.3" y1="476.6" x2="122.0" y2="476.6" stroke="#36303f" stroke-width="1.4"/>
<path d="M134.5,471.2 L142.7,479.0 L159.4,462.8" fill="none" stroke="#5ca64c" stroke-width="6.8" stroke-linecap="round" stroke-linejoin="round"/>
<path d="M76.8,460.4 Q78.2,464.0 81.8,465.4 Q78.2,466.8 76.8,470.4 Q75.4,466.8 71.8,465.4 Q75.4,464.0 76.8,460.4 Z" fill="#fff" stroke="#36303f" stroke-width="1.5" stroke-linejoin="round"/>
<path d="M92.2,461.6 Q94.4,467.4 100.2,469.6 Q94.4,471.8 92.2,477.6 Q90.0,471.8 84.2,469.6 Q90.0,467.4 92.2,461.6 Z" fill="#fff" stroke="#36303f" stroke-width="1.5" stroke-linejoin="round"/>
<path d="M491.3,447.1 A5.3,5.3 0 0 1 501.9,447.1 L501.9,483.3 A10.3,10.3 0 1 1 491.3,483.3 Z" fill="#e6f4f4" stroke="#36303f" stroke-width="1.8"/><rect x="494.1" y="460.1" width="5.0" height="32.0" rx="2.5" fill="#5aa24a"/><circle cx="496.6" cy="492.1" r="6.0" fill="#5aa24a"/><path d="M494.1,483.1 Q494.1,487.1 491.6,490.1 L501.6,490.1 Q499.1,487.1 499.1,483.1 Z" fill="#5aa24a"/><line x1="498.0" y1="451.4" x2="502.4" y2="451.4" stroke="#36303f" stroke-width="1.4"/><line x1="498.0" y1="457.7" x2="502.4" y2="457.7" stroke="#36303f" stroke-width="1.4"/><line x1="498.0" y1="464.0" x2="502.4" y2="464.0" stroke="#36303f" stroke-width="1.4"/><line x1="498.0" y1="470.3" x2="502.4" y2="470.3" stroke="#36303f" stroke-width="1.4"/><line x1="498.0" y1="476.6" x2="502.4" y2="476.6" stroke="#36303f" stroke-width="1.4"/>
<path d="M515.5,471.9 L524.0,479.4 L540.4,463.4" fill="none" stroke="#5ca64c" stroke-width="6.8" stroke-linecap="round" stroke-linejoin="round"/>
<path d="M457.9,460.3 Q459.3,463.9 462.9,465.3 Q459.3,466.7 457.9,470.3 Q456.5,466.7 452.9,465.3 Q456.5,463.9 457.9,460.3 Z" fill="#fff" stroke="#36303f" stroke-width="1.5" stroke-linejoin="round"/>
<path d="M473.6,462.5 Q475.8,468.3 481.6,470.5 Q475.8,472.7 473.6,478.5 Q471.4,472.7 465.6,470.5 Q471.4,468.3 473.6,462.5 Z" fill="#fff" stroke="#36303f" stroke-width="1.5" stroke-linejoin="round"/>
<g font-family="Liberation Serif" font-weight="bold" fill="#2b2d4b" stroke="#2b2d4b" stroke-width="0.45" stroke-linejoin="round"><g stroke-width="0.85"><text x="212.7" y="68.1" font-size="23.2" textLength="186.7" lengthAdjust="spacingAndGlyphs">THE PROCESS OF</text><text x="224.7" y="95.9" font-size="23.2" textLength="163.3" lengthAdjust="spacingAndGlyphs">HOMEOSTASIS</text></g><text x="100.9" y="78.6" font-size="10.5" textLength="29.1" lengthAdjust="spacingAndGlyphs">HEAT</text><text x="482.4" y="78.4" font-size="10.5" textLength="28.4" lengthAdjust="spacingAndGlyphs">COLD</text><text x="41.8" y="235.2" font-size="10.5" textLength="93.1" lengthAdjust="spacingAndGlyphs">HYPOTHALAMUS</text><text x="476.5" y="235.2" font-size="10.5" textLength="93.1" lengthAdjust="spacingAndGlyphs">HYPOTHALAMUS</text><text x="126.2" y="300.0" font-size="10.5" textLength="45.3" lengthAdjust="spacingAndGlyphs">SIGNALS</text><text x="440.4" y="300.0" font-size="10.5" textLength="45.3" lengthAdjust="spacingAndGlyphs">SIGNALS</text><text x="50.3" y="366.8" font-size="10.5" textLength="84.2" lengthAdjust="spacingAndGlyphs">SWEAT GLANDS</text><text x="476.3" y="348.0" font-size="10.5" textLength="84.9" lengthAdjust="spacingAndGlyphs">BLOOD VESSELS</text><text x="476.3" y="360.8" font-size="10.5" textLength="59.4" lengthAdjust="spacingAndGlyphs">CONTRACT</text><text x="476.3" y="383.3" font-size="10.5" textLength="94.1" lengthAdjust="spacingAndGlyphs">MUSCLES SHIVER</text><text x="49.4" y="522.2" font-size="10.5" textLength="132.8" lengthAdjust="spacingAndGlyphs">NORMAL TEMPERATURE</text><text x="430.5" y="523.3" font-size="10.5" textLength="132.8" lengthAdjust="spacingAndGlyphs">NORMAL TEMPERATURE</text></g></svg>
</body></html>
